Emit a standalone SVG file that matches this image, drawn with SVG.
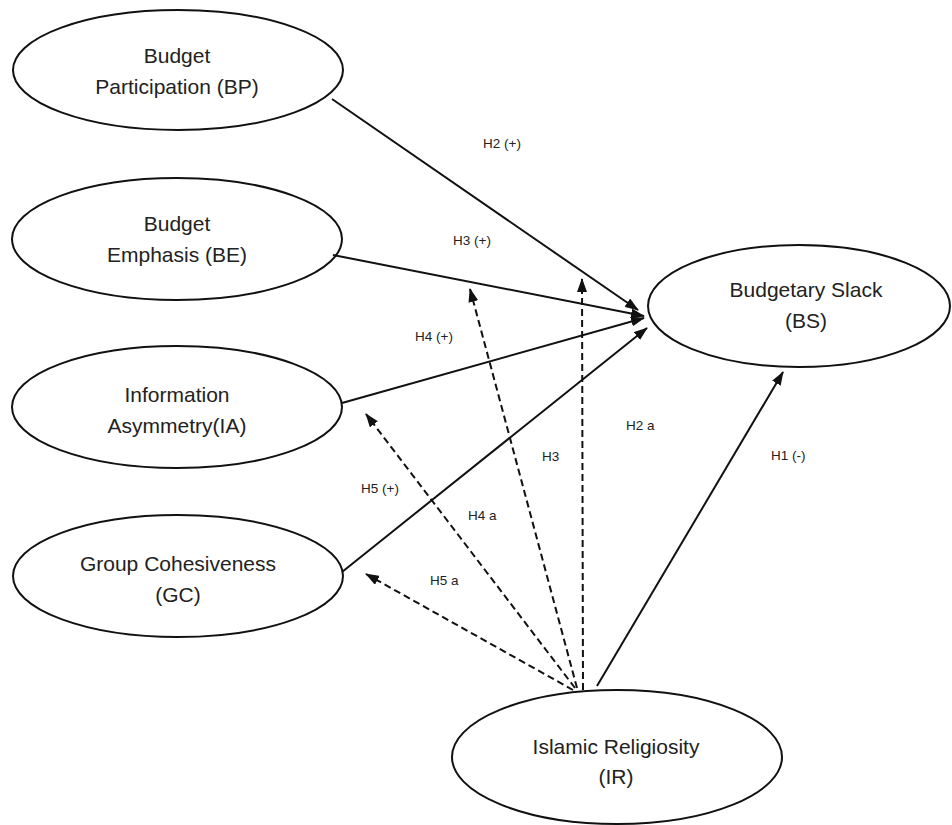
<svg xmlns="http://www.w3.org/2000/svg" width="952" height="825" viewBox="0 0 952 825">
<defs>
<marker id="ah" markerWidth="14" markerHeight="10" refX="13" refY="5" orient="auto" markerUnits="userSpaceOnUse">
<path d="M0,0 L14,5 L0,10 Z" fill="#111"/>
</marker>
<style>
.node ellipse{fill:#fff;stroke:#111;stroke-width:2}
.node text{font-family:"Liberation Sans",Arial,sans-serif;font-size:21px;fill:#222;text-anchor:middle}
.solid{stroke:#111;stroke-width:2;fill:none;marker-end:url(#ah)}
.dash{stroke:#111;stroke-width:2;fill:none;stroke-dasharray:7 4;marker-end:url(#ah)}
.lbl{font-family:"Liberation Sans",Arial,sans-serif;font-size:13.5px;fill:#222}
</style>
</defs>
<rect width="952" height="825" fill="#fff"/>
<g id="BP" class="node"><ellipse cx="178" cy="70" rx="165" ry="60"/><text x="177" y="63">Budget</text><text x="177" y="94">Participation (BP)</text></g>
<g id="BE" class="node"><ellipse cx="177" cy="239" rx="165" ry="61"/><text x="177" y="231">Budget</text><text x="177" y="262">Emphasis (BE)</text></g>
<g id="IA" class="node"><ellipse cx="177" cy="407" rx="165" ry="61"/><text x="177" y="402">Information</text><text x="177" y="433">Asymmetry(IA)</text></g>
<g id="GC" class="node"><ellipse cx="178" cy="576" rx="165" ry="61"/><text x="178" y="571">Group Cohesiveness</text><text x="178" y="602">(GC)</text></g>
<g id="BS" class="node"><ellipse cx="799" cy="306" rx="151" ry="61"/><text x="806" y="297">Budgetary Slack</text><text x="806" y="328">(BS)</text></g>
<g id="IR" class="node"><ellipse cx="617" cy="757" rx="165" ry="67"/><text x="616" y="754">Islamic Religiosity</text><text x="616" y="784">(IR)</text></g>
<g id="connectors">
<line class="solid" x1="332" y1="99" x2="638" y2="310"/>
<line class="solid" x1="333" y1="255" x2="644" y2="316"/>
<line class="solid" x1="342" y1="403" x2="644" y2="318"/>
<line class="solid" x1="342" y1="572" x2="647" y2="328"/>
<line class="solid" x1="597" y1="686" x2="783" y2="372"/>
<line class="dash" x1="583" y1="690" x2="582" y2="279"/>
<line class="dash" x1="577" y1="688" x2="470" y2="289"/>
<line class="dash" x1="575" y1="688" x2="366" y2="414"/>
<line class="dash" x1="573" y1="690" x2="366" y2="574"/>
</g>
<g id="labels">
<text class="lbl" x="483" y="148">H2 (+)</text>
<text class="lbl" x="453" y="245">H3 (+)</text>
<text class="lbl" x="415" y="341">H4 (+)</text>
<text class="lbl" x="361" y="493">H5 (+)</text>
<text class="lbl" x="468" y="520">H4 a</text>
<text class="lbl" x="430" y="585">H5 a</text>
<text class="lbl" x="542" y="461">H3</text>
<text class="lbl" x="626" y="430">H2 a</text>
<text class="lbl" x="771" y="460">H1 (-)</text>
</g>
</svg>
